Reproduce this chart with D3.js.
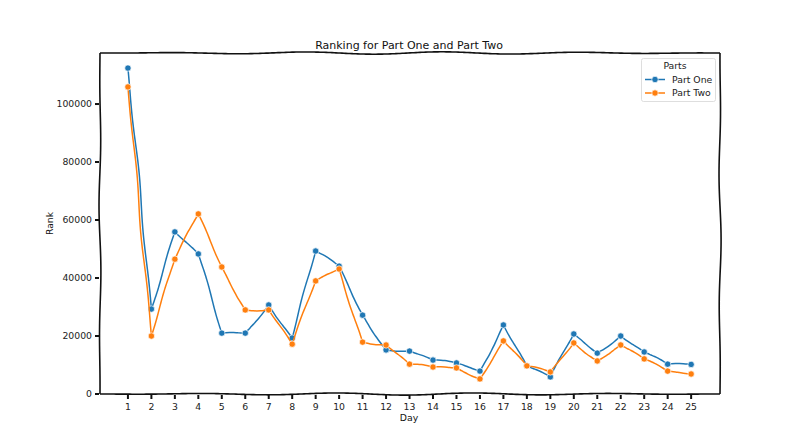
<!DOCTYPE html>
<html>
<head>
   <meta charset="UTF-8">
   <title>Ranking for Part One and Part Two</title>
   <style>
       body { margin: 0; overflow: hidden; background: white; }
       svg { background: white; font-family: "DejaVu Sans", sans-serif; }
       .tick-label { font-size: 9.3px; fill: #222; }
   </style>
   <script src="https://cdnjs.cloudflare.com/ajax/libs/d3/7.8.5/d3.min.js"></script>
</head>
<body>
   <div id="chart"></div>
   <script>
       // data
       const days = d3.range(1, 26);
       const partOne = [112400, 29300, 55900, 48300, 21000, 21000, 30700, 19300, 49300, 44100,
                        27200, 15200, 14800, 11700, 10700, 7900, 23800, 9700, 5900, 20700,
                        14100, 20000, 14500, 10300, 10200];
       const partTwo = [105900, 20000, 46500, 62100, 43800, 29000, 29000, 17200, 39000, 43100,
                        17900, 16900, 10300, 9300, 9000, 5200, 18300, 9700, 7600, 17600,
                        11400, 16900, 12100, 7900, 6900];
       const yTicks = [0, 20000, 40000, 60000, 80000, 100000];
       const seriesNames = ["Part One", "Part Two"];
       const colors = ["#1f77b4", "#ff7f0e"];

       const width = 800, height = 444;
       const plot = {left: 100, right: 720, top: 53, bottom: 394};

       const svg = d3.select("#chart").append("svg")
           .attr("width", width)
           .attr("height", height);

       const x = d3.scaleLinear().domain([-0.19, 26.23]).range([plot.left, plot.right]);
       const y = d3.scaleLinear().domain([0, 117600]).range([plot.bottom, plot.top]);

       // hand-drawn looking line between two points
       function sketch(x0, y0, x1, y1, amp, seed) {
           const len = Math.hypot(x1 - x0, y1 - y0);
           const n = Math.max(2, Math.round(len / 4));
           const nx = -(y1 - y0) / (len || 1), ny = (x1 - x0) / (len || 1);
           const pts = [];
           for (let i = 0; i <= n; i++) {
               const t = i / n;
               const w = amp * Math.sin(t * len / 22 + seed) * Math.sin(Math.PI * t);
               pts.push([x0 + (x1 - x0) * t + nx * w, y0 + (y1 - y0) * t + ny * w]);
           }
           return pts;
       }
       const lineGen = d3.line().curve(d3.curveCatmullRom);

       // spines
       const spines = [
           [plot.left, plot.bottom, plot.right, plot.bottom, 1.1, 0.3],
           [plot.left, plot.top, plot.right, plot.top, 1.2, 1.7],
           [plot.left, plot.bottom, plot.left, plot.top, 1.0, 2.4],
           [plot.right, plot.bottom, plot.right, plot.top, 1.1, 0.9]
       ];
       svg.selectAll(".spine")
           .data(spines)
           .enter().append("path")
           .attr("class", "spine")
           .attr("fill", "none")
           .attr("stroke", "#111")
           .attr("stroke-width", 1.6)
           .attr("d", s => lineGen(sketch(...s)));

       // x ticks
       const xt = svg.append("g");
       xt.selectAll("line")
           .data(days)
           .enter().append("line")
           .attr("x1", d => x(d)).attr("x2", d => x(d))
           .attr("y1", plot.bottom + 1).attr("y2", plot.bottom + 5)
           .attr("stroke", "#111").attr("stroke-width", 2);
       xt.selectAll("text")
           .data(days)
           .enter().append("text")
           .attr("class", "tick-label")
           .attr("x", d => x(d))
           .attr("y", plot.bottom + 16)
           .attr("text-anchor", "middle")
           .text(d => d);

       // y ticks
       const yt = svg.append("g");
       yt.selectAll("line")
           .data(yTicks)
           .enter().append("line")
           .attr("x1", plot.left - 5).attr("x2", plot.left - 1)
           .attr("y1", d => y(d)).attr("y2", d => y(d))
           .attr("stroke", "#111").attr("stroke-width", 2);
       yt.selectAll("text")
           .data(yTicks)
           .enter().append("text")
           .attr("class", "tick-label")
           .attr("x", plot.left - 8)
           .attr("y", d => y(d))
           .attr("dy", "0.34em")
           .attr("text-anchor", "end")
           .text(d => d);

       // axis labels and title
       svg.append("text")
           .attr("x", 409).attr("y", 49)
           .attr("text-anchor", "middle")
           .style("font-size", "11px").style("fill", "#111")
           .text("Ranking for Part One and Part Two");
       svg.append("text")
           .attr("x", 409).attr("y", 421)
           .attr("text-anchor", "middle")
           .style("font-size", "9.3px").style("fill", "#111")
           .text("Day");
       svg.append("text")
           .attr("transform", `translate(53,${(plot.top + plot.bottom) / 2}) rotate(-90)`)
           .attr("text-anchor", "middle")
           .style("font-size", "9.3px").style("fill", "#111")
           .text("Rank");

       // series
       const series = [partOne, partTwo];
       series.forEach((vals, si) => {
           const pts = days.map((d, i) => [x(d), y(vals[i])]);
           let all = [];
           for (let i = 0; i < pts.length - 1; i++) {
               const seg = sketch(pts[i][0], pts[i][1], pts[i + 1][0], pts[i + 1][1], 1.0, i * 1.3 + si);
               all = all.concat(i === 0 ? seg : seg.slice(1));
           }
           svg.append("path")
               .attr("fill", "none")
               .attr("stroke", colors[si])
               .attr("stroke-width", 1.5)
               .attr("d", lineGen(all));
           svg.append("g").selectAll("circle")
               .data(vals)
               .enter().append("circle")
               .attr("cx", (v, i) => x(days[i]))
               .attr("cy", v => y(v))
               .attr("r", 3.2)
               .attr("fill", colors[si])
               .attr("stroke", "white")
               .attr("stroke-width", 0.7);
       });

       // legend
       const lg = svg.append("g");
       lg.append("rect")
           .attr("x", 641.5).attr("y", 58.5)
           .attr("width", 74).attr("height", 43)
           .attr("rx", 2)
           .attr("fill", "white").attr("fill-opacity", 0.8)
           .attr("stroke", "#d6d6d6").attr("stroke-width", 0.8);
       lg.append("text")
           .attr("x", 675).attr("y", 68.5)
           .attr("text-anchor", "middle")
           .style("font-size", "9.3px").style("fill", "#222")
           .text("Parts");
       seriesNames.forEach((name, i) => {
           const ly = 79.5 + i * 13.5;
           lg.append("line")
               .attr("x1", 645).attr("x2", 665)
               .attr("y1", ly).attr("y2", ly)
               .attr("stroke", colors[i]).attr("stroke-width", 1.5);
           lg.append("circle")
               .attr("cx", 655).attr("cy", ly).attr("r", 3.2)
               .attr("fill", colors[i]).attr("stroke", "white").attr("stroke-width", 0.7);
           lg.append("text")
               .attr("x", 672).attr("y", ly)
               .attr("dy", "0.34em")
               .style("font-size", "9.3px").style("fill", "#222")
               .text(name);
       });
   </script>
</body>
</html>
